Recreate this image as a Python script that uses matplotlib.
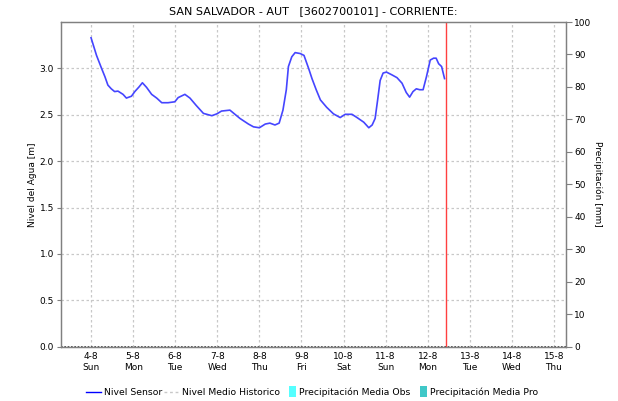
import numpy as np
import pandas as pd
import matplotlib
matplotlib.use("Agg")
import matplotlib.pyplot as plt
from matplotlib.lines import Line2D
from matplotlib.patches import Patch, Rectangle
from matplotlib.legend_handler import HandlerPatch

# nivel del sensor: dia de agosto (fraccion = hora) y nivel en metros
dias = [4.00, 4.13, 4.25, 4.33, 4.40, 4.48, 4.56, 4.64, 4.76, 4.84, 4.96,
        5.04, 5.14, 5.22, 5.32, 5.44, 5.56, 5.68, 5.83, 5.99,
        6.07, 6.23, 6.35, 6.50, 6.67, 6.87, 6.99,
        7.10, 7.30, 7.38, 7.54, 7.74, 7.86, 8.00,
        8.14, 8.25, 8.37, 8.47, 8.56, 8.64, 8.69, 8.77, 8.85, 8.97,
        9.06, 9.17, 9.25, 9.35, 9.45, 9.60, 9.76, 9.92,
        10.04, 10.20, 10.32, 10.48, 10.60, 10.68, 10.75, 10.81, 10.87, 10.94,
        11.02, 11.15, 11.27, 11.39, 11.49, 11.57, 11.65, 11.73, 11.81, 11.89, 11.97,
        12.06, 12.14, 12.20, 12.26, 12.33, 12.40]
nivel = [3.33, 3.14, 3.00, 2.91, 2.82, 2.78, 2.75, 2.755, 2.72, 2.68, 2.70,
         2.75, 2.80, 2.845, 2.795, 2.72, 2.68, 2.63, 2.63, 2.64,
         2.685, 2.72, 2.68, 2.60, 2.515, 2.49, 2.51,
         2.54, 2.55, 2.52, 2.46, 2.40, 2.37, 2.36,
         2.40, 2.41, 2.39, 2.41, 2.55, 2.77, 3.02, 3.125, 3.17, 3.16,
         3.14, 3.00, 2.89, 2.77, 2.66, 2.58, 2.51, 2.47,
         2.505, 2.505, 2.47, 2.42, 2.36, 2.39, 2.46, 2.66, 2.87, 2.95,
         2.96, 2.93, 2.90, 2.84, 2.74, 2.69, 2.75, 2.78, 2.77, 2.77, 2.91,
         3.09, 3.11, 3.11, 3.05, 3.02, 2.89]

dia_actual = 12.445          # linea roja: momento de la ultima consulta
dias_eje = list(range(4, 16))
x_min, x_max = 3.286, 15.286

titulo = "SAN SALVADOR - AUT   [3602700101] - CORRIENTE:"
inicio = pd.Timestamp("2024-08-01")


def a_fecha(d):
    return inicio + pd.to_timedelta(np.asarray(d) - 1, unit="D")


def caja_estrecha(legend, orig_handle, xdescent, ydescent, width, height, fontsize):
    # rectangulo angosto pegado al texto, como en la leyenda original
    return Rectangle((width - 5 - xdescent, -ydescent - 1.5), 5, height + 3)


fig = plt.figure(figsize=(6.18, 4.01), dpi=100)
ax = fig.add_axes([61 / 618, 54.3 / 401, 505 / 618, 324.7 / 401])
ax2 = ax.twinx()

grid_kw = dict(color="#c8c8c8", linewidth=0.9, linestyle=(0, (2, 2)))
ax.set_xlim(a_fecha(x_min), a_fecha(x_max))
ax.set_ylim(0, 3.5)
ax2.set_ylim(0, 100)

ticks_x = a_fecha(dias_eje)
for t in ticks_x:
    ax.axvline(t, zorder=0, **grid_kw)
for y in np.arange(0.5, 3.5, 0.5):
    ax.axhline(y, zorder=0, **grid_kw)

ax.plot(a_fecha(dias), nivel, color="#4545ff", linewidth=1.2, zorder=3)
ax.axvline(a_fecha(dia_actual), color="#ff4040", linewidth=1.0, zorder=4)
ax.axhline(0.0, color="#404040", linewidth=1.2, linestyle=(0, (1, 1)), zorder=4)

ax.set_xticks(ticks_x)
ax.set_xticklabels([f"{t.day}-{t.month}\n{t.strftime('%a')}" for t in ticks_x],
                   fontsize=6.5, linespacing=1.3)
ax.tick_params(axis="x", length=0, pad=4)
ax.set_yticks(np.arange(0, 3.5, 0.5))
ax.set_yticklabels([f"{v:.1f}" for v in np.arange(0, 3.5, 0.5)], fontsize=6.5)
ax.tick_params(axis="y", length=3, width=0.8, color="#808080", pad=2)
ax2.set_yticks(np.arange(0, 101, 10))
ax2.set_yticklabels([str(v) for v in range(0, 101, 10)], fontsize=6.5)
ax2.tick_params(axis="y", length=4, width=0.8, color="#808080", pad=2)

for a in (ax, ax2):
    for s in a.spines.values():
        s.set_color("#808080")
        s.set_linewidth(0.9)

ax.set_ylabel("Nivel del Agua [m]", fontsize=6.5, labelpad=2)
ax2.set_ylabel("Precipitación [mm]", fontsize=6.5, rotation=-90, labelpad=8)
ax.set_title(titulo, fontsize=8, pad=6)

handles = [
    Line2D([], [], color="#0000ff", linewidth=1.0),
    Line2D([], [], color="#c8c8c8", linewidth=1.0, linestyle=(0, (2, 2))),
    Patch(facecolor="#55ffff", edgecolor="none"),
    Patch(facecolor="#40c8c8", edgecolor="none"),
]
etiquetas = ["Nivel Sensor", "Nivel Medio Historico",
             "Precipitación Media Obs", "Precipitación Media Pro"]
fig.legend(handles, etiquetas, loc="center", bbox_to_anchor=(0.505, 0.022),
           ncol=4, frameon=False, fontsize=6.7, handlelength=1.6,
           handletextpad=0.3, columnspacing=0.2,
           handler_map={Patch: HandlerPatch(patch_func=caja_estrecha)})

fig.savefig("out.png", dpi=100)
